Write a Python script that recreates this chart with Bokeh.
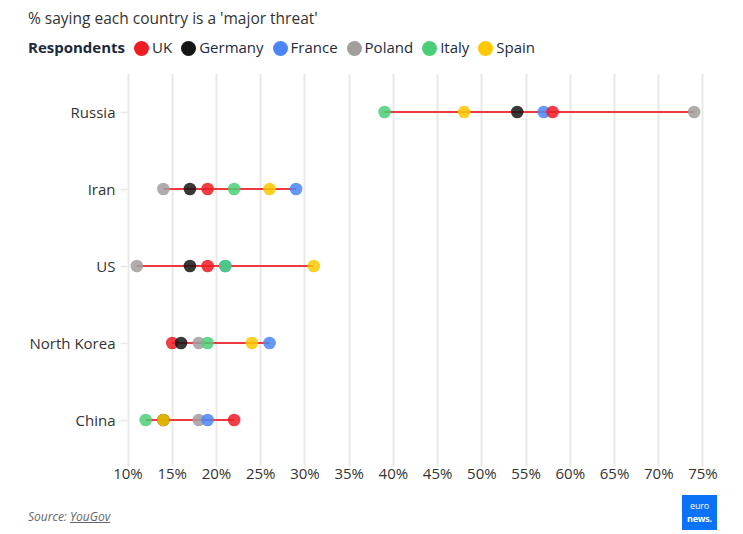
import numpy as np
from bokeh.plotting import figure
from bokeh.layouts import column
from bokeh.models import Range1d, FactorRange, FixedTicker, Div
from bokeh.embed import file_html
from bokeh.resources import INLINE

# ---- data -------------------------------------------------------------
countries = ["Russia", "Iran", "US", "North Korea", "China"]
uk      = [58, 19, 19, 15, 22]
germany = [54, 17, 17, 16, 14]
france  = [57, 29, 21, 26, 19]
poland  = [74, 14, 11, 18, 18]
italy   = [39, 22, 21, 19, 12]
spain   = [48, 26, 31, 24, 14]

x_ticks = [10, 15, 20, 25, 30, 35, 40, 45, 50, 55, 60, 65, 70, 75]
x_tick_labels = ["10%", "15%", "20%", "25%", "30%", "35%", "40%",
                 "45%", "50%", "55%", "60%", "65%", "70%", "75%"]

series = {"UK": uk, "Germany": germany, "France": france,
          "Poland": poland, "Italy": italy, "Spain": spain}
colors = {"UK": "#ee1c25", "Germany": "#151515", "France": "#4a86f7",
          "Poland": "#a39e9e", "Italy": "#4bcf76", "Spain": "#fdc800"}
draw_order = ["Poland", "France", "UK", "Germany", "Italy", "Spain"]
legend_order = ["UK", "Germany", "France", "Poland", "Italy", "Spain"]

title_text = "% saying each country is a 'major threat'"
legend_title = "Respondents"
source_label = "Source:"
source_name = "YouGov"

FONT = "Open Sans"
W = 735

# ---- header: title + legend (HTML) -----------------------------------------
dot_tpl = ('<span style="display:inline-block;width:15px;height:15px;border-radius:50%;'
           'background:{c};vertical-align:-3px;margin:0 3px 0 9px;"></span>'
           '<span>{n}</span>')
legend_html = "".join(dot_tpl.format(c=colors[n], n=n) for n in legend_order)
head = Div(width=W, height=66, styles={"margin": "0", "padding": "0"},
           text=(
               f'<div style="position:relative;width:{W}px;height:66px;font-family:\'{FONT}\';">'
               f'<div style="position:absolute;left:28px;top:7px;font-size:15.5px;line-height:22px;'
               f'color:#333333;white-space:nowrap;">{title_text}</div>'
               f'<div style="position:absolute;left:28px;top:36px;font-size:15px;line-height:22px;'
               f'color:#1e2b3a;white-space:nowrap;">'
               f'<b style="color:#1b2a3b;">{legend_title}</b>{legend_html}</div>'
               f'</div>'))

# ---- main chart -----------------------------------------------------------
p = figure(width=W, height=429,
           x_range=Range1d(9.152, 76.074),
           y_range=FactorRange(factors=list(reversed(countries))),
           output_backend="svg", toolbar_location=None,
           min_border_left=120, min_border_right=23,
           min_border_top=7, min_border_bottom=37)
p.outline_line_color = None

p.xgrid.ticker = FixedTicker(ticks=x_ticks)
p.xgrid.grid_line_color = "#e8e8e8"
p.xgrid.grid_line_width = 2
p.ygrid.grid_line_color = None

p.xaxis.ticker = FixedTicker(ticks=x_ticks)
p.xaxis.major_label_overrides = {t: l for t, l in zip(x_ticks, x_tick_labels)}
p.xaxis.axis_line_color = None
p.xaxis.major_tick_in = 0
p.xaxis.major_tick_out = 8
p.xaxis.major_tick_line_color = "#e8e8e8"
p.xaxis.major_tick_line_width = 2
p.xaxis.minor_tick_line_color = None
p.xaxis.major_label_standoff = -4
p.xaxis.major_label_text_font = FONT
p.xaxis.major_label_text_font_size = "15px"
p.xaxis.major_label_text_color = "#333333"

p.yaxis.axis_line_color = None
p.yaxis.major_tick_in = 7
p.yaxis.major_tick_out = 0
p.yaxis.major_tick_line_color = "#e8e8e8"
p.yaxis.major_tick_line_width = 1.5
p.yaxis.major_label_standoff = 5
p.yaxis.major_label_text_font = FONT
p.yaxis.major_label_text_font_size = "15px"
p.yaxis.major_label_text_color = "#333333"

all_vals = np.array([series[k] for k in series])
mins = all_vals.min(axis=0)
maxs = all_vals.max(axis=0)
p.segment(x0=mins, y0=countries, x1=maxs, y1=countries,
          line_color="#ee3a3f", line_width=2)

for name in draw_order:
    p.circle(x=series[name], y=countries, radius=6.3, radius_units="screen",
             fill_color=colors[name], line_color=None, fill_alpha=0.85)

# ---- footer: source + logo (HTML) -------------------------------------------
foot = Div(width=W, height=35, styles={"margin": "0", "padding": "0"},
           text=(
               f'<div style="position:relative;width:{W}px;height:35px;font-family:\'{FONT}\';">'
               f'<div style="position:absolute;left:28px;top:13px;font-size:12px;line-height:18px;'
               f'font-style:italic;color:#666666;white-space:nowrap;">{source_label} '
               f'<u>{source_name}</u></div>'
               f'<div style="position:absolute;left:682px;top:0px;width:35px;height:35px;'
               f'background:#0c72f5;color:white;text-align:center;font-size:9px;'
               f'line-height:13px;letter-spacing:-0.2px;">'
               f'<div style="padding-top:4px;">euro</div>'
               f'<div style="font-weight:bold;">news.</div></div>'
               f'</div>'))

layout = column(head, p, foot, spacing=0)
open("out.html", "w").write(file_html(layout, INLINE))
